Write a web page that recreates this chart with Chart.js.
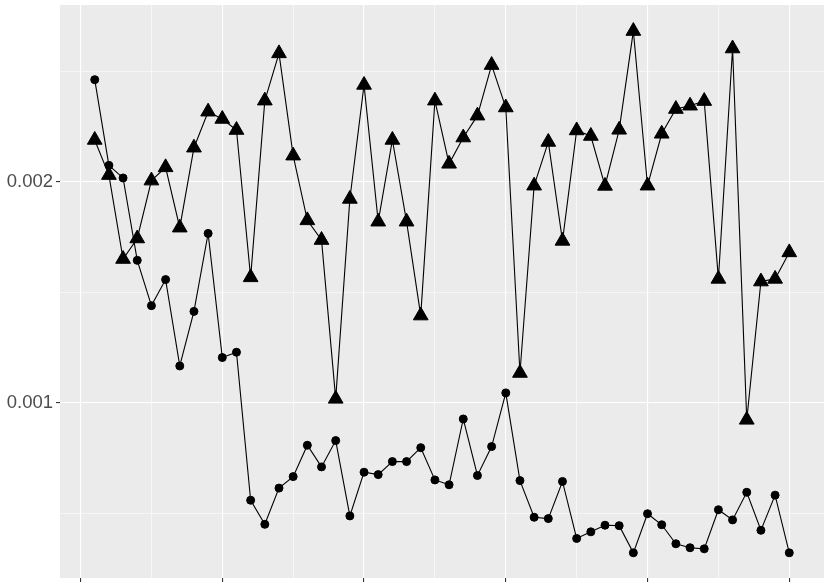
<!DOCTYPE html>
<html lang="en">

<head>
  <meta charset="UTF-8">
  <title>Two series line chart</title>
  <style>
body {
  margin: 0;
  padding: 0;
  background-color: #ffffff;
}

canvas {
  display: block;
}
  </style>
</head>

<body>
  <canvas id="lineChart" width="830" height="588"></canvas>

  <script src="https://cdn.jsdelivr.net/npm/chart.js"></script>
  <script>
    // x positions (run index)
    const runs = [1, 2, 3, 4, 5, 6, 7, 8, 9, 10,
      11, 12, 13, 14, 15, 16, 17, 18, 19, 20,
      21, 22, 23, 24, 25, 26, 27, 28, 29, 30,
      31, 32, 33, 34, 35, 36, 37, 38, 39, 40,
      41, 42, 43, 44, 45, 46, 47, 48, 49, 50];

    // circle series
    const circleValues = [0.002462, 0.002074, 0.002017, 0.001644, 0.001439, 0.001557, 0.001166, 0.001413, 0.001766, 0.001204,
      0.001228, 0.000558, 0.000449, 0.000613, 0.000665, 0.000807, 0.000709, 0.000828, 0.000487, 0.000685,
      0.000674, 0.000733, 0.000733, 0.000796, 0.000650, 0.000628, 0.000926, 0.000670, 0.000801, 0.001044,
      0.000647, 0.000481, 0.000475, 0.000643, 0.000385, 0.000415, 0.000445, 0.000443, 0.000320, 0.000497,
      0.000447, 0.000361, 0.000343, 0.000338, 0.000515, 0.000469, 0.000594, 0.000422, 0.000581, 0.000320];

    // triangle series
    const triangleValues = [0.002189, 0.002030, 0.001650, 0.001743, 0.002005, 0.002065, 0.001792, 0.002154, 0.002317, 0.002284,
      0.002234, 0.001567, 0.002367, 0.002581, 0.002118, 0.001825, 0.001736, 0.001017, 0.001922, 0.002438,
      0.001819, 0.002189, 0.001819, 0.001394, 0.002367, 0.002081, 0.002200, 0.002299, 0.002528, 0.002336,
      0.001134, 0.001982, 0.002180, 0.001732, 0.002232, 0.002207, 0.001981, 0.002235, 0.002682, 0.001982,
      0.002217, 0.002329, 0.002344, 0.002365, 0.001560, 0.002603, 0.000922, 0.001548, 0.001560, 0.001680];

    // axis ticks (majors get a label / tick mark, the rest are minor grid lines)
    const xTicks = [0, 5, 10, 15, 20, 25, 30, 35, 40, 45, 50];
    const xMajor = [0, 10, 20, 30, 40, 50];
    const yTicks = [0.0005, 0.001, 0.0015, 0.002, 0.0025];
    const yMajor = [0.001, 0.002];
    const yLabels = ['0.001', '0.002'];

    const panelBackground = {
      id: 'panelBackground',
      beforeDraw(chart) {
        const {ctx, chartArea} = chart;
        ctx.save();
        ctx.fillStyle = '#EBEBEB';
        ctx.fillRect(chartArea.left, chartArea.top, chartArea.right - chartArea.left, chartArea.bottom - chartArea.top);
        ctx.restore();
      }
    };

    function isMajor(list, value) {
      return list.some(v => Math.abs(v - value) < 1e-9);
    }

    function toPoints(values) {
      return runs.map((x, i) => ({x: x, y: values[i]}));
    }

    // drop the extra room chart.js keeps for half labels at the ends
    function noEndPadding(axis) {
      axis.paddingTop = 0;
      axis.paddingBottom = 0;
      axis.paddingLeft = 0;
      axis.paddingRight = 0;
    }

    const ctx = document.getElementById('lineChart').getContext('2d');

    new Chart(ctx, {
      type: 'line',
      data: {
        datasets: [{
          label: 'circles',
          data: toPoints(circleValues),
          borderColor: '#000000',
          borderWidth: 1.1,
          backgroundColor: '#000000',
          pointStyle: 'circle',
          pointRadius: 4,
          pointBorderWidth: 1,
          pointBorderColor: '#000000',
          pointBackgroundColor: '#000000',
          tension: 0
        }, {
          label: 'triangles',
          data: toPoints(triangleValues),
          borderColor: '#000000',
          borderWidth: 1.1,
          backgroundColor: '#000000',
          pointStyle: 'triangle',
          pointRadius: 8.5,
          pointBorderWidth: 1,
          pointBorderColor: '#000000',
          pointBackgroundColor: '#000000',
          tension: 0
        }]
      },
      options: {
        responsive: false,
        animation: false,
        events: [],
        layout: {
          autoPadding: false,
          padding: {top: 5, right: 6, bottom: 0, left: 0}
        },
        plugins: {
          legend: {display: false},
          tooltip: {enabled: false}
        },
        scales: {
          x: {
            type: 'linear',
            min: -1.45,
            max: 52.45,
            afterBuildTicks: axis => {
              axis.ticks = xTicks.map(v => ({value: v}));
            },
            afterFit: axis => {
              axis.height = 10;
              noEndPadding(axis);
            },
            border: {display: false},
            grid: {
              color: c => '#FFFFFF',
              lineWidth: c => isMajor(xMajor, c.tick.value) ? 1.1 : 0.55,
              drawTicks: true,
              tickLength: 4,
              tickColor: c => isMajor(xMajor, c.tick.value) ? '#333333' : 'rgba(0,0,0,0)',
              tickWidth: 1.1
            },
            ticks: {
              autoSkip: false,
              maxRotation: 0,
              callback: () => ''
            }
          },
          y: {
            type: 'linear',
            min: 0.000206,
            max: 0.0028,
            afterBuildTicks: axis => {
              axis.ticks = yTicks.map(v => ({value: v}));
            },
            afterFit: axis => {
              axis.width = 60;
              noEndPadding(axis);
            },
            border: {display: false},
            grid: {
              color: c => '#FFFFFF',
              lineWidth: c => isMajor(yMajor, c.tick.value) ? 1.1 : 0.55,
              drawTicks: true,
              tickLength: 4,
              tickColor: c => isMajor(yMajor, c.tick.value) ? '#333333' : 'rgba(0,0,0,0)',
              tickWidth: 1.1
            },
            ticks: {
              autoSkip: false,
              padding: 3,
              color: '#4D4D4D',
              font: {family: '"Liberation Sans", Arial, sans-serif', size: 18.5},
              callback: value => {
                const k = yMajor.findIndex(v => Math.abs(v - value) < 1e-9);
                return k >= 0 ? yLabels[k] : '';
              }
            }
          }
        }
      },
      plugins: [panelBackground]
    });
  </script>
</body>

</html>
